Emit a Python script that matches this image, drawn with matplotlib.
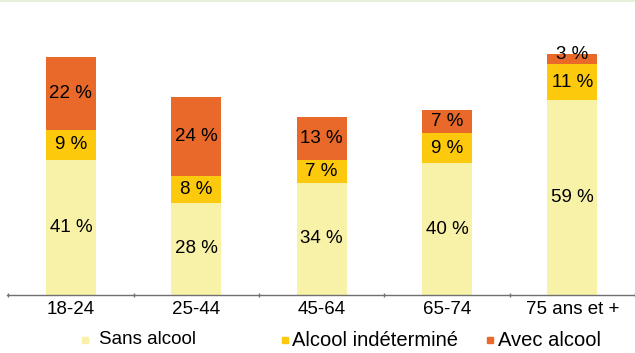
import matplotlib
matplotlib.use("Agg")
import matplotlib.pyplot as plt
from matplotlib.lines import Line2D
import numpy as np

categories = ["18-24", "25-44", "45-64", "65-74", "75 ans et +"]
sans_alcool = [41, 28, 34, 40, 59]
alcool_indet = [9, 8, 7, 9, 11]
avec_alcool = [22, 24, 13, 7, 3]
series_names = ["Sans alcool", "Alcool indéterminé", "Avec alcool"]
colors = ["#F8F2A8", "#FDC90C", "#E8692A"]

plt.rcParams['font.family'] = ['Liberation Sans', 'DejaVu Sans']

fig = plt.figure(figsize=(6.35, 3.53), dpi=100)
ax = fig.add_axes([7/635, 58/353, 628/635, 275/353])

x = np.arange(len(categories))
w = 0.40
ax.bar(x, sans_alcool, w, color=colors[0], linewidth=0)
ax.bar(x, alcool_indet, w, bottom=sans_alcool, color=colors[1], linewidth=0)
bottom3 = [a + b for a, b in zip(sans_alcool, alcool_indet)]
ax.bar(x, avec_alcool, w, bottom=bottom3, color=colors[2], linewidth=0)

fs = 13.5
for i in range(len(categories)):
    ax.text(x[i], sans_alcool[i] / 2, f"{sans_alcool[i]} %", ha='center', va='center', fontsize=fs)
    ax.text(x[i], sans_alcool[i] + alcool_indet[i] / 2, f"{alcool_indet[i]} %", ha='center', va='center', fontsize=fs)
    if avec_alcool[i] >= 5:
        ax.text(x[i], bottom3[i] + avec_alcool[i] / 2, f"{avec_alcool[i]} %", ha='center', va='center', fontsize=fs)
    else:
        ax.text(x[i], bottom3[i] + 0.2, f"{avec_alcool[i]} %", ha='center', va='bottom', fontsize=fs)

ax.set_xlim(-0.51, 4.49)
ax.set_ylim(0, 275/3.3)
for s in ['top', 'right', 'left']:
    ax.spines[s].set_visible(False)
ax.spines['bottom'].set_color('#707070')
ax.spines['bottom'].set_linewidth(1.0)
ax.set_yticks([])
ax.set_xticks(x)
ax.set_xticklabels(categories, fontsize=fs)
ax.tick_params(axis='x', length=0, pad=4)
ax.set_xticks(np.arange(-0.5, 4.6, 1.0), minor=True)
ax.tick_params(axis='x', which='minor', length=3, width=1, color='#707070', direction='inout')

# faint top line
fig.add_artist(Line2D([0, 1], [1 - 1/353, 1 - 1/353], transform=fig.transFigure, color='#E3EDD3', lw=1.2))

# legend
leg_marker_x = [85, 285, 490]
leg_text_x = [99, 292, 498]
leg_fs = [13.5, 14.5, 14.5]
ly = 1 - 340/353
for name, c, mx, tx, lf in zip(series_names, colors, leg_marker_x, leg_text_x, leg_fs):
    fig.add_artist(Line2D([mx/635], [ly], transform=fig.transFigure, marker='s',
                          markersize=5, color=c, linestyle='none'))
    fig.text(tx/635, ly, name, ha='left', va='center', fontsize=lf)

fig.savefig("out.png", dpi=100)
